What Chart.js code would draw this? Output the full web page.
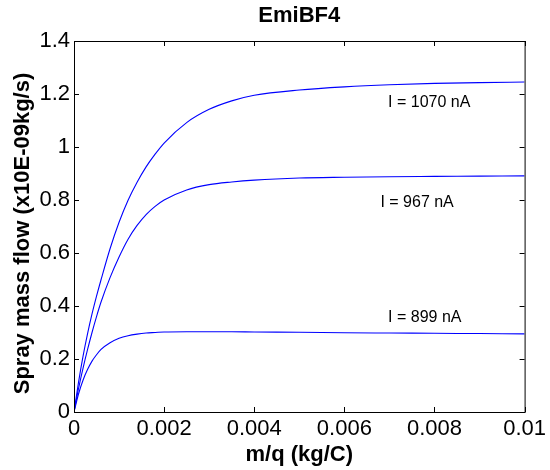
<!DOCTYPE html>
<html>
<head>
<meta charset="UTF-8">
<title>EmiBF4</title>
<script src="https://cdn.jsdelivr.net/npm/chart.js"></script>
<style>
  body { margin: 0; background: #fff; }
  #wrap { width: 550px; height: 470px; }
</style>
</head>
<body>
<div id="wrap"><canvas id="flowChart" width="550" height="470"></canvas></div>
<script>
// m/q (kg/C)
const massToCharge = [0, 0.0001, 0.0002, 0.0003, 0.0004, 0.0005, 0.0006, 0.0008, 0.001, 0.0012, 0.0014,
  0.0016, 0.0018, 0.002, 0.0025, 0.003, 0.0035, 0.004, 0.005, 0.006, 0.007, 0.008, 0.009, 0.01];
// spray mass flow (x10E-09 kg/s) per emission current
const flow1070 = [0, 0.112, 0.21, 0.295, 0.37, 0.437, 0.499, 0.616, 0.716, 0.799, 0.867,
  0.925, 0.973, 1.015, 1.092, 1.142, 1.174, 1.195, 1.215, 1.227, 1.235, 1.240, 1.243, 1.245];
const flow967 = [0, 0.088, 0.165, 0.235, 0.30, 0.36, 0.415, 0.507, 0.585, 0.652, 0.704,
  0.745, 0.776, 0.80, 0.838, 0.858, 0.868, 0.875, 0.883, 0.886, 0.888, 0.889, 0.890, 0.891];
const flow899 = [0, 0.068, 0.12, 0.16, 0.192, 0.216, 0.236, 0.261, 0.278, 0.288, 0.294,
  0.298, 0.300, 0.302, 0.303, 0.303, 0.303, 0.302, 0.301, 0.299, 0.298, 0.297, 0.296, 0.295];

const xTickLabels = ['0', '0.002', '0.004', '0.006', '0.008', '0.01'];
const yTickLabels = ['0', '0.2', '0.4', '0.6', '0.8', '1', '1.2', '1.4'];

const curveLabels = ['I = 1070 nA', 'I = 967 nA', 'I = 899 nA'];
const curveLabelX = [0.00697, 0.0068, 0.00697];
const curveLabelY = [1.166, 0.792, 0.358];

const yTitle = 'Spray mass flow (x10E-09kg/s)';

const FONT = 'Arial, "Liberation Sans", Helvetica, sans-serif';

function pts(ys) { return massToCharge.map((x, i) => ({ x: x, y: ys[i] })); }

function line(ys) {
  return { data: pts(ys), borderColor: '#0000ff', borderWidth: 1.1, pointRadius: 0,
           cubicInterpolationMode: 'monotone', fill: false };
}

// MATLAB-ish box with inward ticks, plus the I = ... texts and y title
const boxPlugin = {
  id: 'box',
  afterDatasetsDraw(chart) {
    const { ctx, chartArea: a, scales: { x, y } } = chart;
    ctx.save();
    ctx.strokeStyle = '#000';
    ctx.lineWidth = 1;
    ctx.strokeRect(a.left + 0.5, a.top + 0.5, a.right - a.left, a.bottom - a.top);
    ctx.beginPath();
    x.ticks.forEach(t => {
      const px = Math.round(x.getPixelForValue(t.value)) + 0.5;
      ctx.moveTo(px, a.bottom); ctx.lineTo(px, a.bottom - 5);
      ctx.moveTo(px, a.top); ctx.lineTo(px, a.top + 5);
    });
    y.ticks.forEach(t => {
      const py = Math.round(y.getPixelForValue(t.value)) + 0.5;
      ctx.moveTo(a.left, py); ctx.lineTo(a.left + 5, py);
      ctx.moveTo(a.right, py); ctx.lineTo(a.right - 5, py);
    });
    ctx.stroke();

    ctx.fillStyle = '#000';
    ctx.font = '16px ' + FONT;
    ctx.textAlign = 'left';
    ctx.textBaseline = 'middle';
    curveLabels.forEach((s, i) => {
      ctx.fillText(s, x.getPixelForValue(curveLabelX[i]), y.getPixelForValue(curveLabelY[i]));
    });

    ctx.font = 'bold 22px ' + FONT;
    ctx.textAlign = 'center';
    ctx.translate(23, (a.top + a.bottom) / 2 + 7);
    ctx.rotate(-Math.PI / 2);
    ctx.fillText(yTitle, 0, 0);
    ctx.restore();
  }
};

new Chart(document.getElementById('flowChart'), {
  type: 'line',
  data: { datasets: [line(flow1070), line(flow967), line(flow899)] },
  options: {
    responsive: false,
    animation: false,
    layout: { padding: { left: 0, right: 22, top: 0, bottom: 0 } },
    plugins: {
      legend: { display: false },
      tooltip: { enabled: false },
      title: {
        display: true, text: 'EmiBF4', color: '#000', fullSize: false,
        font: { family: FONT, size: 22, weight: 'bold' },
        padding: { top: 3, bottom: 11.6 }
      }
    },
    scales: {
      x: {
        type: 'linear', min: 0, max: 0.01,
        grid: { display: false, drawTicks: false },
        border: { display: false },
        ticks: {
          stepSize: 0.002, color: '#000', padding: 4, maxRotation: 0,
          font: { family: FONT, size: 22 },
          callback: (v, i) => xTickLabels[i]
        },
        title: {
          display: true, text: 'm/q (kg/C)', color: '#000',
          font: { family: FONT, size: 22, weight: 'bold' },
          padding: { top: 0, bottom: 2 }
        },
        afterFit: s => { s.height = 58; }
      },
      y: {
        min: 0, max: 1.4,
        grid: { display: false, drawTicks: false },
        border: { display: false },
        ticks: {
          stepSize: 0.2, color: '#000', padding: 4,
          font: { family: FONT, size: 22 },
          callback: (v, i) => yTickLabels[i]
        },
        title: { display: false },
        afterFit: s => { s.width = 74; }
      }
    }
  },
  plugins: [boxPlugin]
});
</script>
</body>
</html>
